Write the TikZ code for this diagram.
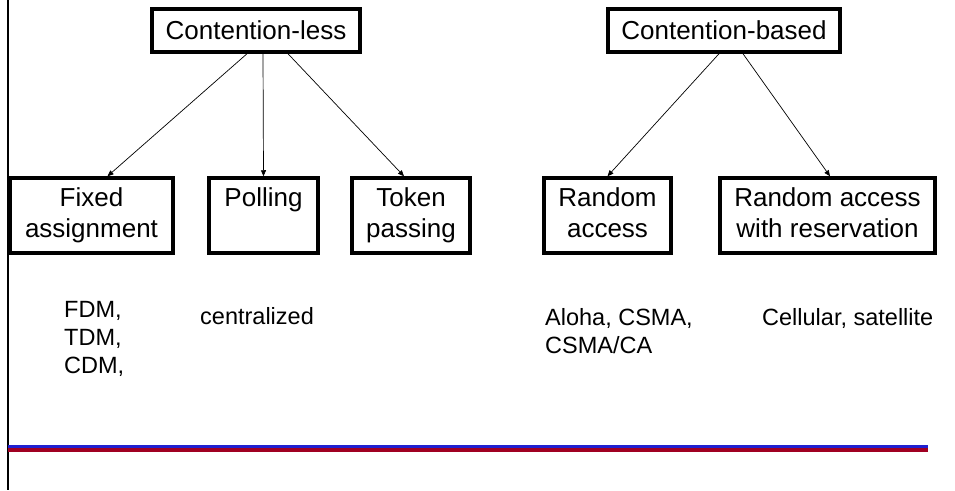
\documentclass[tikz,border=0pt]{standalone}
\usepackage{fontspec}
\setmainfont{Liberation Sans}
\usetikzlibrary{arrows.meta}
\definecolor{barred}{HTML}{A00022}
\definecolor{barblue}{HTML}{2020D0}
\begin{document}
\begin{tikzpicture}[x=1pt,y=-1pt,
  box/.style={draw,line width=3.5pt,align=center,inner sep=0pt,
    font=\fontsize{26}{31}\selectfont},
  note/.style={align=left,inner sep=0pt,anchor=base west,
    font=\fontsize{23.5}{28}\selectfont},
  arr/.style={line width=0.7pt,-{Triangle[length=6pt,width=5pt]}}]
\useasboundingbox (0,0) rectangle (955,490);
\fill[white] (0,0) rectangle (955,490);
% left rule
\draw[line width=2pt] (8,0) coordinate (lt) -- (8,490) coordinate (lb);
% boxes
\node[box,minimum width=208pt,minimum height=43pt] (cl) at (256,30.5) {Contention-less};
\node[box,minimum width=232pt,minimum height=43pt] (cb) at (724,30.5) {Contention-based};
\node[box,minimum width=163pt,minimum height=75pt] (fixed) at (91.5,215.5) {Fixed\strut\\assignment\strut};
\node[box,minimum width=109pt,minimum height=75pt] (poll) at (263.5,215.5) {Polling\strut\\\strut};
\node[box,minimum width=118pt,minimum height=75pt] (token) at (411,215.5) {Token\strut\\passing\strut};
\node[box,minimum width=127pt,minimum height=75pt] (ra) at (607.5,215.5) {Random\strut\\access\strut};
\node[box,minimum width=215pt,minimum height=75pt] (rar) at (827.5,215.5) {Random access\strut\\with reservation\strut};
% arrows
\draw[arr] ([xshift=-9pt]cl.south) -- ([xshift=16pt]fixed.north);
\draw[arr] ([xshift=7pt]cl.south) -- (poll.north);
\draw[arr] ([xshift=32pt]cl.south) -- ([xshift=-7pt]token.north);
\draw[arr] ([xshift=-5pt]cb.south) -- (ra.north);
\draw[arr] ([xshift=19pt]cb.south) -- ([xshift=2.5pt]rar.north);
% notes
\node[note] (n1) at (64,373) {FDM,\\TDM,\\CDM,};
\node[note] (n2) at (200,324) {centralized};
\node[note] (n3) at (545,353) {Aloha, CSMA,\\CSMA/CA};
\node[note] (n4) at (762,325) {Cellular, satellite};
% bottom bar
\draw[barred,line width=4pt] (8,450) coordinate (rl) -- (928,450) coordinate (rr);
\draw[barblue,line width=2.5pt] (8,446.5) coordinate (bl) -- (928,446.5) coordinate (br);
\end{tikzpicture}
\end{document}
